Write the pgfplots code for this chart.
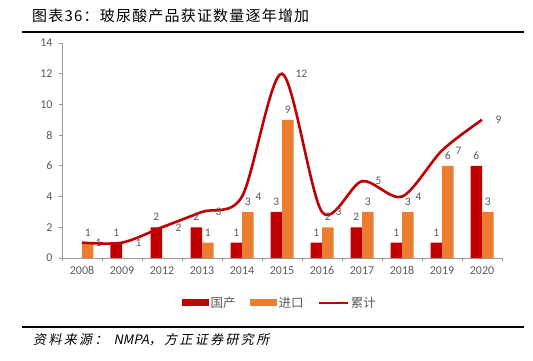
\documentclass[border=0pt]{standalone}
\usepackage{pgfplots}
\pgfplotsset{compat=1.18}
\usepackage{fontspec}
\setmainfont{Carlito}
\newfontfamily\cjk{Noto Sans CJK SC}
\newfontfamily\cjkt{Noto Sans CJK SC}[LetterSpace=8]
\newfontfamily\cjki{Noto Sans CJK SC}[FakeSlant=0.2, LetterSpace=18]
\newfontfamily\cjkis{Noto Sans CJK SC}[FakeSlant=0.2]
\definecolor{dred}{HTML}{C00000}
\definecolor{orng}{HTML}{ED7D31}
\definecolor{txt}{HTML}{595959}
\definecolor{axg}{HTML}{989898}
\begin{document}
\begin{tikzpicture}[x=1pt,y=1pt]
\path[use as bounding box] (0,0) rectangle (533,361);
\node[anchor=west, inner sep=0pt, font=\cjkt\fontsize{15}{17}\selectfont] at (32,345) {图表36：玻尿酸产品获证数量逐年增加};
\draw[line width=2pt] (22,329) -- (524,329);
\draw[line width=2pt] (22,34) -- (524,34);
\node[anchor=west, inner sep=0pt, font=\fontsize{13}{15}\selectfont] at (33,21) {{\cjki 资料来源：}\hspace{6pt}{\cjkis NMPA}{\cjki ，方正证券研究所}};
\begin{axis}[
  at={(62pt,103pt)}, anchor=south west,
  scale only axis, width=440pt, height=215pt,
  xmin=-0.5, xmax=10.5, ymin=0, ymax=14,
  axis x line=bottom, axis y line=left,
  axis line style={-, draw=axg, line width=0.8pt},
  xtick={0,...,10},
  xticklabels={2008,2009,2012,2013,2014,2015,2016,2017,2018,2019,2020},
  major x tick style={draw=none},
  minor xtick={-0.5,0.5,...,10.5},
  minor x tick style={draw=axg, line width=0.8pt},
  minor tick length=3pt,
  ytick={0,2,...,14},
  major y tick style={draw=axg, line width=0.8pt},
  major tick length=3pt,
  tick align=outside,
  tick label style={font=\fontsize{12}{14}\selectfont, text=txt},
  /pgf/number format/assume math mode=true,
  xticklabel style={yshift=-2pt},
  yticklabel style={xshift=-3pt},
  legend style={at={(axis description cs:0.495,-0.209)}, anchor=center, draw=none, fill=none,
    font=\cjk\fontsize{12.5}{14}\selectfont, text=txt, legend columns=3,
    /tikz/every even column/.append style={column sep=12pt},
    nodes={inner xsep=2pt}},
  legend cell align=left,
  clip=false,
]
\addplot[ybar, bar width=11.5pt, bar shift=-5.75pt, fill=dred, draw=none,
  nodes near coords, nodes near coords style={font=\fontsize{11.5}{13}\selectfont, text=txt, anchor=south, xshift=-5.75pt, yshift=3pt},
  legend image code/.code={\fill[dred] (0pt,-3.5pt) rectangle (27pt,3.5pt);}]
  coordinates {(1,1) (2,2) (3,2) (4,1) (5,3) (6,1) (7,2) (8,1) (9,1) (10,6)};
\addlegendentry{国产}
\addplot[ybar, bar width=11.5pt, bar shift=5.75pt, fill=orng, draw=none,
  nodes near coords, nodes near coords style={font=\fontsize{11.5}{13}\selectfont, text=txt, anchor=south, xshift=5.75pt, yshift=3pt},
  legend image code/.code={\fill[orng] (0pt,-3.5pt) rectangle (27pt,3.5pt);}]
  coordinates {(0,1) (3,1) (4,3) (5,9) (6,2) (7,3) (8,3) (9,6) (10,3)};
\addlegendentry{进口}
\addplot[dred, line width=2.6pt, smooth, tension=0.5, mark=none,
  nodes near coords, nodes near coords style={font=\fontsize{11.5}{13}\selectfont, text=txt, anchor=west, xshift=9pt},
  legend image code/.code={\draw[dred, line width=2.4pt] (0pt,0pt) -- (29pt,0pt);}]
  coordinates {(0,1) (1,1) (2,2) (3,3) (4,4) (5,12) (6,3) (7,5) (8,4) (9,7) (10,9)};
\addlegendentry{累计}
\end{axis}
\end{tikzpicture}
\end{document}
